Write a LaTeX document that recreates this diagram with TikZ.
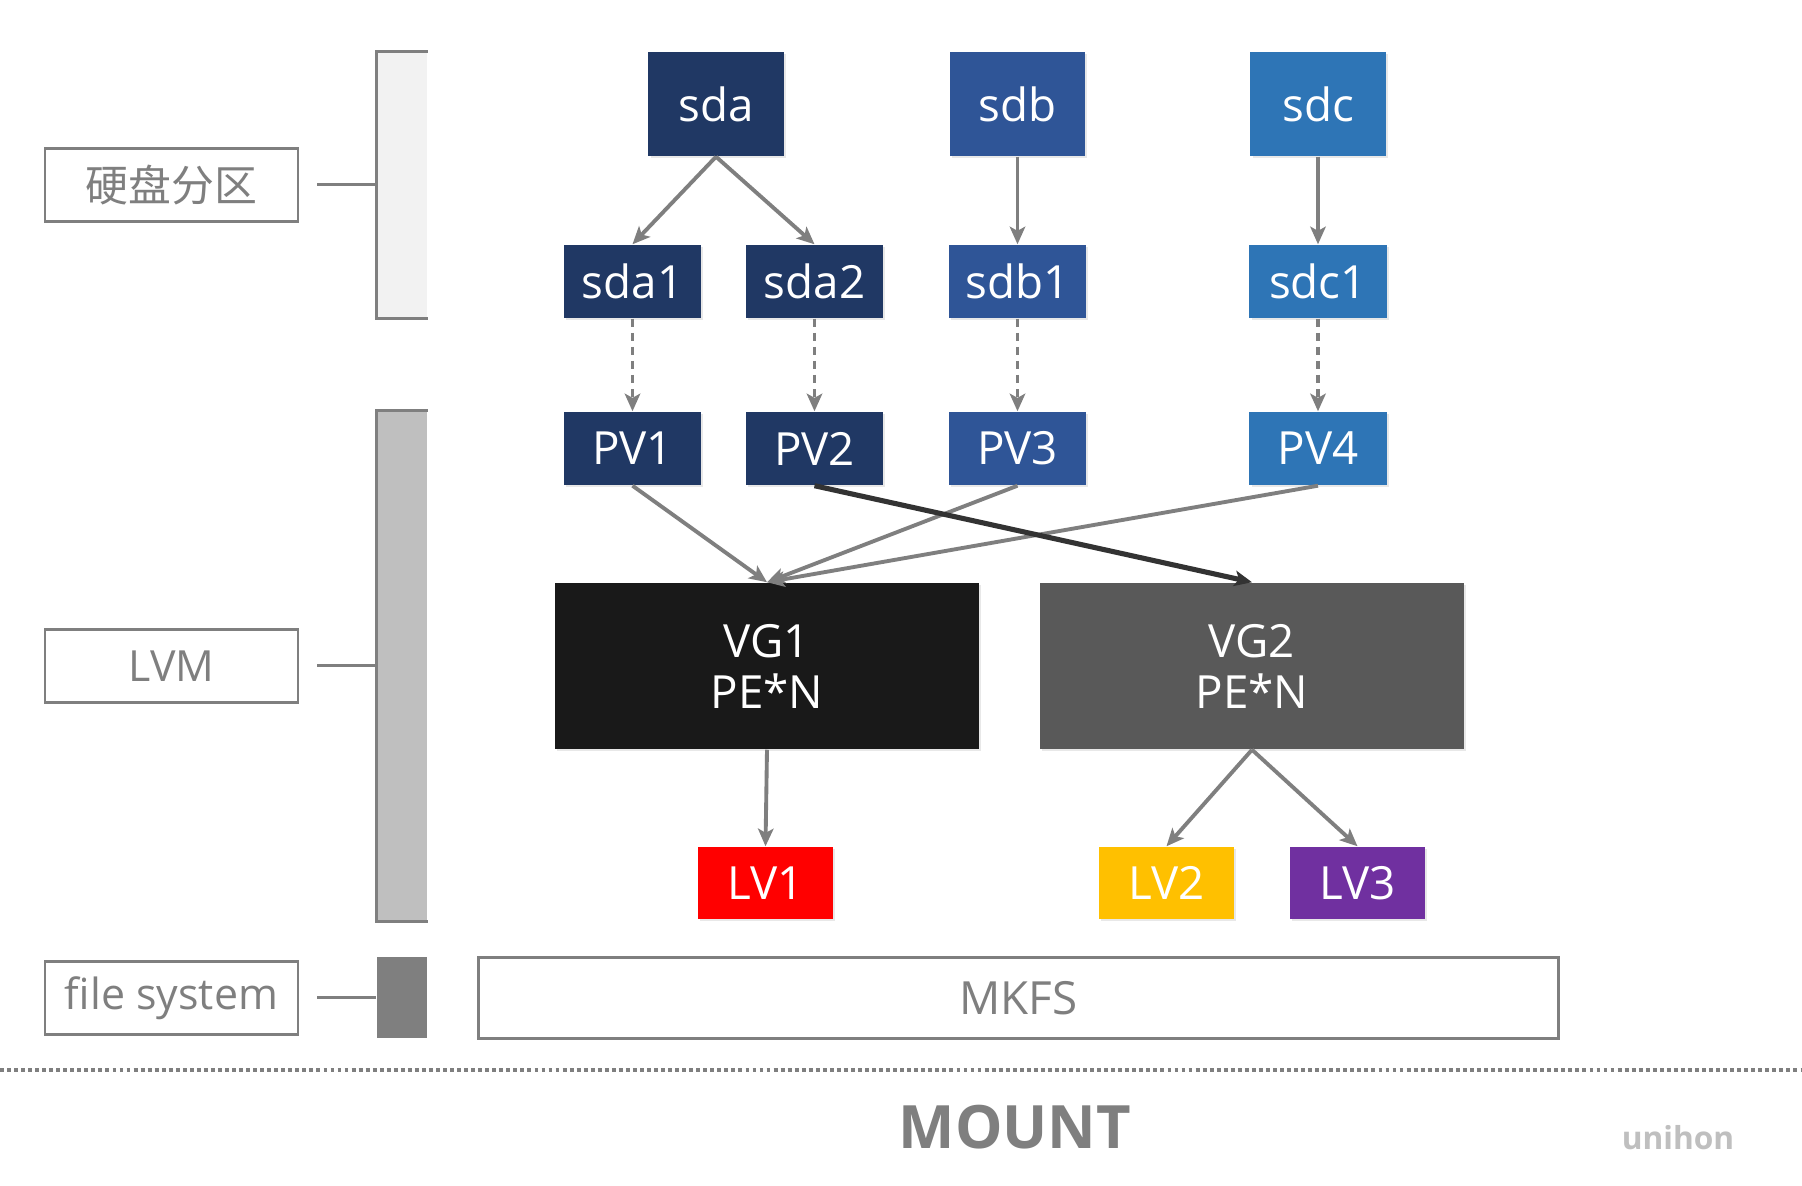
\documentclass[tikz,border=0pt]{standalone}
\usepackage{fontspec}
\setmainfont{Open Sans}
\newfontfamily\cjkfont{Noto Sans CJK SC}
\usetikzlibrary{arrows.meta,shadows}
\definecolor{diskA}{HTML}{203864}
\definecolor{diskB}{HTML}{2F5597}
\definecolor{diskC}{HTML}{2E75B6}
\definecolor{lineg}{HTML}{7F7F7F}
\definecolor{barA}{HTML}{F2F2F2}
\definecolor{barB}{HTML}{BFBFBF}
\definecolor{vgA}{HTML}{191919}
\definecolor{vgB}{HTML}{595959}
\definecolor{lvA}{HTML}{FF0000}
\definecolor{lvB}{HTML}{FFC000}
\definecolor{lvC}{HTML}{7030A0}
\tikzset{
  blk/.style={text=white, inner sep=0pt, align=center,
    font=\fontsize{13}{14.5}\selectfont,
    drop shadow={shadow xshift=0.6pt, shadow yshift=-0.6pt, opacity=0.18}},
  disk/.style={blk, minimum width=1.35cm, minimum height=1.04cm},
  part/.style={blk, minimum width=1.37cm, minimum height=0.73cm},
  vgbox/.style={blk, minimum width=4.24cm, minimum height=1.66cm},
  lvbox/.style={blk, minimum width=1.35cm, minimum height=0.72cm},
  layer/.style={draw=lineg, line width=0.8pt, text=lineg, inner sep=0pt,
    minimum width=2.53cm, minimum height=0.73cm, font=\fontsize{12.2}{14}\selectfont},
  bar/.style={inner sep=0pt, minimum width=0.5cm},
  flow/.style={color=lineg, line width=1.1pt, -{Stealth[length=5pt, width=4.4pt, inset=1.2pt]}},
}
\begin{document}
\begin{tikzpicture}[x=0.01cm, y=-0.01cm]
\useasboundingbox[fill=white] (0,0) rectangle (1802,1186);
% left side: layers
\node[layer] (hdd) at (171.5,185) {\cjkfont 硬盘分区};
\node[layer] (lvm) at (171.5,666) {LVM};
\node[layer] (fs) at (171.5,998) {file system};
\node[bar, fill=barA, minimum height=2.66cm] (bar1) at (402,185) {};
\node[bar, fill=barB, minimum height=5.10cm] (bar2) at (402,666) {};
\node[bar, fill=lineg, minimum height=0.81cm] (bar3) at (402,997.5) {};
\draw[lineg, line width=0.85pt] (bar1.north east) -- (bar1.north west) -- (bar1.south west) -- (bar1.south east);
\draw[lineg, line width=0.85pt] (bar2.north east) -- (bar2.north west) -- (bar2.south west) -- (bar2.south east);
\draw[lineg, line width=0.85pt]
  ([xshift=0.18cm]hdd.east) -- (bar1.west |- hdd.east)
  ([xshift=0.18cm]lvm.east) -- (bar2.west |- lvm.east)
  ([xshift=0.18cm]fs.east) -- (bar3.west |- fs.east);
% disks and partitions
\node[disk, fill=diskA] (sda) at (716,104) {sda};
\node[disk, fill=diskB] (sdb) at (1017.5,104) {sdb};
\node[disk, fill=diskC] (sdc) at (1318,104) {sdc};
\node[part, fill=diskA] (sda1) at (632.5,281.5) {sda1};
\node[part, fill=diskA] (sda2) at (814.5,281.5) {sda2};
\node[part, fill=diskB] (sdb1) at (1017.5,281.5) {sdb1};
\node[part, fill=diskC] (sdc1) at (1318,281.5) {sdc1};
\node[part, fill=diskA] (PV1) at (632.5,448.5) {PV1};
\node[part, fill=diskA] (PV2) at (814.5,448.5) {PV2};
\node[part, fill=diskB] (PV3) at (1017.5,448.5) {PV3};
\node[part, fill=diskC] (PV4) at (1318,448.5) {PV4};
% volume groups and logical volumes
\node[vgbox, fill=vgA] (VG1) at (767,666) {VG1\\PE*N};
\node[vgbox, fill=vgB] (VG2) at (1252,666) {VG2\\PE*N};
\node[lvbox, fill=lvA] (LV1) at (765.5,883) {LV1};
\node[lvbox, fill=lvB] (LV2) at (1166.5,883) {LV2};
\node[lvbox, fill=lvC] (LV3) at (1357.5,883) {LV3};
\path[flow]
(sda.south) edge (sda1.north)
(sda.south) edge (sda2.north)
(sdb.south) edge (sdb1.north)
(sdc.south) edge (sdc1.north);
\path[flow, dash pattern=on 2.4pt off 1.6pt]
(sda1.south) edge (PV1.north)
(sda2.south) edge (PV2.north)
(sdb1.south) edge (PV3.north)
(sdc1.south) edge (PV4.north);
\path[flow]
(PV1.south) edge (VG1.north)
(PV3.south) edge (VG1.north)
(PV4.south) edge (VG1.north)
(VG1.south) edge (LV1.north)
(VG2.south) edge (LV2.north)
(VG2.south) edge (LV3.north);
\path[flow, color=black!80, line width=1.45pt] (PV2.south) edge (VG2.north);
% file system and mount
\node[draw=lineg, line width=0.85pt, text=lineg, minimum width=10.79cm, minimum height=0.8cm,
  inner sep=0pt, font=\fontsize{13}{14.5}\selectfont] (mkfs) at (1018.5,998) {MKFS};
\draw[lineg, line width=1.3pt, dash pattern=on 1.1pt off 0.9pt] (0,1070) -- (1802,1070);
\node[text=lineg, font=\fontsize{17}{20}\selectfont\bfseries] (mount) at (1015,1127) {MOUNT};
\node[text=barB, font=\fontsize{9}{11}\selectfont\bfseries] (brand) at (1678,1138) {unihon};
\end{tikzpicture}
\end{document}
